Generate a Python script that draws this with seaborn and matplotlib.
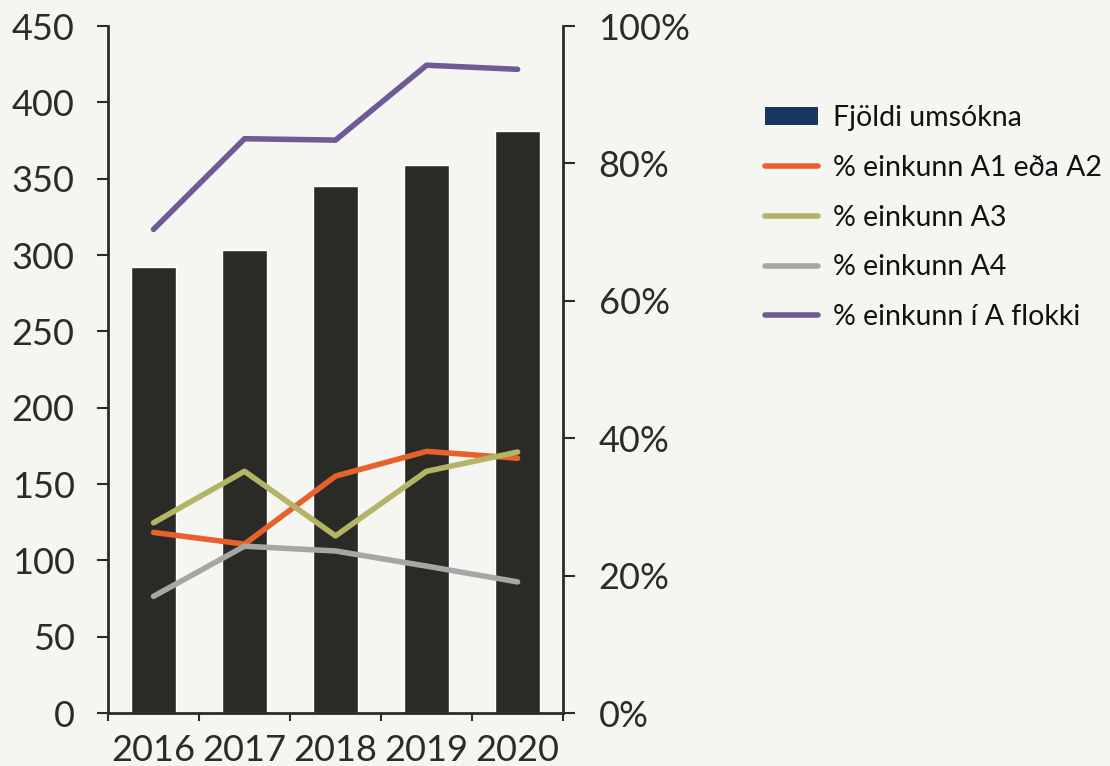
import numpy as np
import pandas as pd
import matplotlib.pyplot as plt
import seaborn as sb
from matplotlib.patches import Patch
from matplotlib.lines import Line2D
from matplotlib.ticker import PercentFormatter

years = ['2016', '2017', '2018', '2019', '2020']
umsoknir = [292, 303, 345, 359, 381]
a1_a2 = [26.3, 24.6, 34.5, 38.1, 37.1]
a3 = [27.7, 35.2, 25.8, 35.2, 38.0]
a4 = [17.0, 24.3, 23.6, 21.4, 19.1]
a_flokkur = [70.4, 83.6, 83.4, 94.3, 93.7]

series_names = ['% einkunn A1 eða A2', '% einkunn A3', '% einkunn A4', '% einkunn í A flokki']
series_vals = [a1_a2, a3, a4, a_flokkur]
series_colors = ['#e8602c', '#b4b466', '#a6a6a6', '#6f5a96']

bg = '#f5f6f1'
ink = '#2b2b27'

sb.set_style('white')
plt.rcParams['font.family'] = ['Lato', 'DejaVu Sans']

fig = plt.figure(figsize=(11.1, 7.66), dpi=100, facecolor=bg)
ax = fig.add_axes([0.0973, 0.069, 0.41, 0.897])
ax.set_facecolor(bg)

df = pd.DataFrame({'ar': years, 'fjoldi': umsoknir})
sb.barplot(data=df, x='ar', y='fjoldi', color='#2a2b26', saturation=1, width=0.5, ax=ax)
ax.set_ylim(0, 450)
ax.set_yticks(range(0, 451, 50))
ax.set_xlim(-0.5, len(years) - 0.5)
ax.set_xlabel('')
ax.set_ylabel('')

ax2 = ax.twinx()
pos = np.arange(len(years))
for name, vals, col in zip(series_names, series_vals, series_colors):
    sb.lineplot(x=pos, y=vals, color=col, linewidth=4, ax=ax2)
ax2.set_ylim(0, 100)
ax2.set_yticks(range(0, 101, 20))
ax2.yaxis.set_major_formatter(PercentFormatter(decimals=0))

for a in (ax, ax2):
    for s in a.spines.values():
        s.set_visible(False)
ax.spines['left'].set_visible(True)
ax.spines['bottom'].set_visible(True)
ax2.spines['right'].set_visible(True)
for a, s in ((ax, 'left'), (ax, 'bottom'), (ax2, 'right')):
    a.spines[s].set_color(ink)
    a.spines[s].set_linewidth(2)

ax.tick_params(axis='y', direction='out', length=8, width=1.5, color=ink, labelsize=26, labelcolor=ink, pad=16, left=True)
ax2.tick_params(axis='y', direction='out', length=8.5, width=1.5, color=ink, labelsize=26, labelcolor=ink, pad=17, right=True)
ax.set_xticks(pos)
ax.set_xticklabels(years)
ax.set_xticks(np.arange(-0.5, len(years)), minor=True)
ax.tick_params(axis='x', which='major', length=0, labelsize=26, labelcolor=ink, pad=15)
ax.tick_params(axis='x', which='minor', direction='out', length=6, width=1.5, color=ink, bottom=True)

handles = [Patch(facecolor='#17375e', edgecolor='none')]
handles += [Line2D([], [], color=c, linewidth=4, solid_capstyle='round') for c in series_colors]
labels = ['Fjöldi umsókna'] + series_names
fig.legend(handles, labels, loc='upper left', bbox_to_anchor=(0.666, 0.896), frameon=False,
           fontsize=20.5, labelcolor='#111111', handlelength=1.85, handleheight=0.6,
           handletextpad=0.55, labelspacing=0.83)

plt.savefig('out.png', dpi=100, facecolor=bg)
